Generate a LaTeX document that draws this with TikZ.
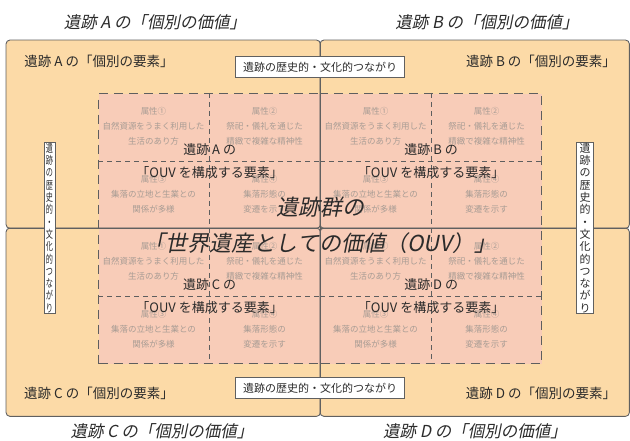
\documentclass[tikz,border=0pt]{standalone}
\usepackage{fontspec}
\setmainfont{Noto Sans CJK JP}
\newfontfamily\jpslant[FakeSlant=0.2]{Noto Sans CJK JP}
\usetikzlibrary{calc}
\definecolor{qorange}{HTML}{FCDAA7}
\definecolor{qpink}{HTML}{F8CCB8}
\definecolor{linegray}{HTML}{606060}
\definecolor{dashgray}{HTML}{5E5E5E}
\definecolor{attrgray}{HTML}{A89C94}
\definecolor{textdark}{HTML}{2B2B2B}
\begin{document}
\begin{tikzpicture}[x=1pt,y=-1pt,
  quad/.style={fill=qorange, rounded corners=4pt, anchor=north west, inner sep=0, minimum height=188},
  qline/.style={draw=linegray, line width=0.9pt, rounded corners=4pt},
  pinkbox/.style={fill=qpink, draw=dashgray, line width=1.3pt, dash pattern=on 9pt off 6pt, anchor=north west, inner sep=0, minimum height=135},
  divider/.style={draw=dashgray, line width=0.9pt, dash pattern=on 5pt off 4pt},
  attr/.style={text=attrgray, font=\fontsize{8.5}{15}\selectfont, align=center},
  ouv/.style={text=textdark, font=\fontsize{13}{23}\selectfont, align=center},
  titletext/.style={text=textdark, font=\jpslant\fontsize{16.5}{20}\selectfont},
  elem/.style={text=textdark, font=\fontsize{13.5}{16}\selectfont},
  link/.style={fill=white, draw=linegray, line width=0.7pt, inner sep=0, minimum width=169, minimum height=21, font=\fontsize{11}{13}\selectfont, text=textdark},
  vlink/.style={fill=white, draw=linegray, line width=0.7pt, inner xsep=3pt, inner ysep=1pt, align=center, font=\fontsize{11}{12.3}\selectfont, text=textdark},
  bigtext/.style={text=textdark, font=\jpslant\fontsize{22}{36}\selectfont, align=center}
]
\useasboundingbox (0,0) rectangle (630,441);

% quadrants
\node[quad, minimum width=314] (qa) at (6,40) {};
\node[quad, minimum width=309] (qb) at (320,40) {};
\node[quad, minimum width=314] (qc) at (6,228) {};
\node[quad, minimum width=309] (qd) at (320,228) {};

% pink boxes
\node[pinkbox, minimum width=222] (pa) at (98,93) {};
\node[pinkbox, minimum width=221] (pb) at (320,93) {};
\node[pinkbox, minimum width=222] (pc) at (98,228) {};
\node[pinkbox, minimum width=221] (pd) at (320,228) {};

\foreach \p in {pa,pb,pc,pd} {
  \draw[divider] (\p.north) -- (\p.south);
  \draw[divider] (\p.west) -- (\p.east);
}

% quadrant outlines on top
\foreach \q in {qa,qb,qc,qd} {
  \draw[qline] (\q.north west) rectangle (\q.south east);
}

% attribute texts
\foreach \p in {pa,pb,pc,pd} {
  \node[attr] (\p-a1) at ($(\p.north west)+(55.5,33.5)$) {属性①\\自然資源をうまく利用した\\生活のあり方};
  \node[attr] (\p-a2) at ($(\p.north west)+(166.5,33.5)$) {属性②\\祭祀・儀礼を通じた\\精緻で複雑な精神性};
  \node[attr] (\p-a3) at ($(\p.north west)+(55.5,101)$) {属性③\\集落の立地と生業との\\関係が多様};
  \node[attr] (\p-a4) at ($(\p.north west)+(166.5,101)$) {属性④\\集落形態の\\変遷を示す};
}

% OUV component labels
\node[ouv] (oa) at (pa.center) {遺跡 A の\\「OUV を構成する要素」};
\node[ouv] (ob) at (pb.center) {遺跡 B の\\「OUV を構成する要素」};
\node[ouv] (oc) at (pc.center) {遺跡 C の\\「OUV を構成する要素」};
\node[ouv] (od) at (pd.center) {遺跡 D の\\「OUV を構成する要素」};

% central text
\node[bigtext] (big) at (320,225) {遺跡群の\\「世界遺産としての価値（OUV）」};

% element labels
\node[elem] (ea) at (99,61) {遺跡 A の「個別の要素」};
\node[elem] (eb) at (541,61) {遺跡 B の「個別の要素」};
\node[elem] (ec) at (99,393) {遺跡 C の「個別の要素」};
\node[elem] (ed) at (541,393) {遺跡 D の「個別の要素」};

% titles
\node[titletext] (ta) at (155,22) {遺跡 A の「個別の価値」};
\node[titletext] (tb) at (487,22) {遺跡 B の「個別の価値」};
\node[titletext] (tc) at (162,431) {遺跡 C の「個別の価値」};
\node[titletext] (td) at (475,431) {遺跡 D の「個別の価値」};

% link boxes
\node[link] (ltop) at (320,67) {遺跡の歴史的・文化的つながり};
\node[link] (lbot) at (320,388) {遺跡の歴史的・文化的つながり};
\node[vlink, xscale=0.65, transform shape] (lleft) at (49.5,228) {遺\\跡\\の\\歴\\史\\的\\・\\文\\化\\的\\つ\\な\\が\\り};
\node[vlink] (lright) at (585,228) {遺\\跡\\の\\歴\\史\\的\\・\\文\\化\\的\\つ\\な\\が\\り};
\end{tikzpicture}
\end{document}
